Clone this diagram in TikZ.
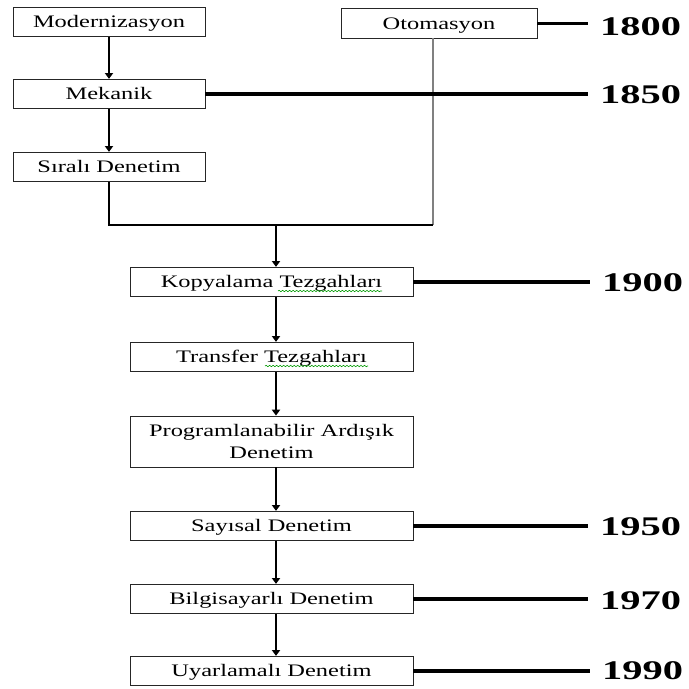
\documentclass[tikz,border=0pt]{standalone}
\usepackage{fontspec}
\setmainfont{Liberation Serif}
\newfontfamily\kutufont[FakeStretch=1.39]{Liberation Serif}
\newfontfamily\yilfont[FakeStretch=1.5]{Liberation Serif}
\usetikzlibrary{arrows.meta,decorations.pathmorphing}

\tikzset{
  kutu/.style={draw=black!85, line width=0.8pt, minimum width=5.76cm,
    minimum height=0.88cm, inner sep=0pt,
    text height=12pt, text depth=2.1pt,
    font=\kutufont\fontsize{15}{19}\selectfont},
  genis/.style={kutu, minimum width=8.49cm},
  yil/.style={inner sep=0pt, anchor=west,
    font=\yilfont\bfseries\fontsize{23}{26}\selectfont},
  ok/.style={line width=1.1pt, -{Triangle[length=5pt,width=7pt]}},
  baglanti/.style={line width=1.1pt},
  yilcizgi/.style={line width=3.4pt, shorten >=0.36cm},
  imla/.style={draw=green!60!black, line width=0.5pt,
    decorate, decoration={snake, amplitude=0.6pt, segment length=3pt}}
}

\begin{document}
\begin{tikzpicture}[x=0.03cm, y=-0.03cm]
  \useasboundingbox (0,0) rectangle (689,689);

  % sol kol
  \node[kutu] (modern) at (109,22) {Modernizasyon};
  \node[kutu] (mekanik) at (109,94) {Mekanik};
  \node[kutu] (sirali) at (109,167) {Sıralı Denetim};
  \node[kutu, minimum width=5.88cm] (otomasyon) at (439,23.5) {Otomasyon};

  % ana zincir
  \node[genis] (kopya) at (271.5,282) {Kopyalama Tezgahları};
  \node[genis] (transfer) at (271.5,357) {Transfer Tezgahları};
  \node[genis, minimum height=1.53cm, text height={}, text depth={},
    align=center] (prog) at (271.5,441.5) {Programlanabilir Ardışık\\Denetim};
  \node[genis] (sayisal) at (271.5,526) {Sayısal Denetim};
  \node[genis] (bilgisayar) at (271.5,599) {Bilgisayarlı Denetim};
  \node[genis] (uyarlama) at (271.5,671) {Uyarlamalı Denetim};

  % yillar
  \node[yil] (y1800) at (600,27) {1800};
  \node[yil] (y1850) at (600,95) {1850};
  \node[yil] (y1900) at (602,283) {1900};
  \node[yil] (y1950) at (600,527) {1950};
  \node[yil] (y1970) at (600,601) {1970};
  \node[yil] (y1990) at (602,671) {1990};

  \coordinate (j) at (276,225);
  \coordinate (oalt) at (433,38);

  % otomasyon kolu
  \draw[gray, line width=1.7pt] (oalt) -- (oalt |- j);
  \draw[baglanti] (sirali.south) |- (oalt |- j);

  % yil cizgileri
  \draw[yilcizgi] (otomasyon.east) -- (otomasyon.east -| y1800.west);
  \draw[yilcizgi] (mekanik.east) -- (mekanik.east -| y1850.west);
  \draw[yilcizgi] (kopya.east) -- (kopya.east -| y1900.west);
  \draw[yilcizgi] (sayisal.east) -- (sayisal.east -| y1950.west);
  \draw[yilcizgi] (bilgisayar.east) -- (bilgisayar.east -| y1970.west);
  \draw[yilcizgi] (uyarlama.east) -- (uyarlama.east -| y1990.west);

  % oklar
  \draw[ok] (modern) -- (mekanik);
  \draw[ok] (mekanik) -- (sirali);
  \draw[ok] (j) -- (j |- kopya.north);
  \draw[ok] (kopya.south -| j) -- (transfer.north -| j);
  \draw[ok] (transfer.south -| j) -- (prog.north -| j);
  \draw[ok] (prog.south -| j) -- (sayisal.north -| j);
  \draw[ok] (sayisal.south -| j) -- (bilgisayar.north -| j);
  \draw[ok] (bilgisayar.south -| j) -- (uyarlama.north -| j);

  % imla alti cizgileri
  \draw[imla] (278,291) -- (382,291);
  \draw[imla] (265,366) -- (368,366);
\end{tikzpicture}
\end{document}
